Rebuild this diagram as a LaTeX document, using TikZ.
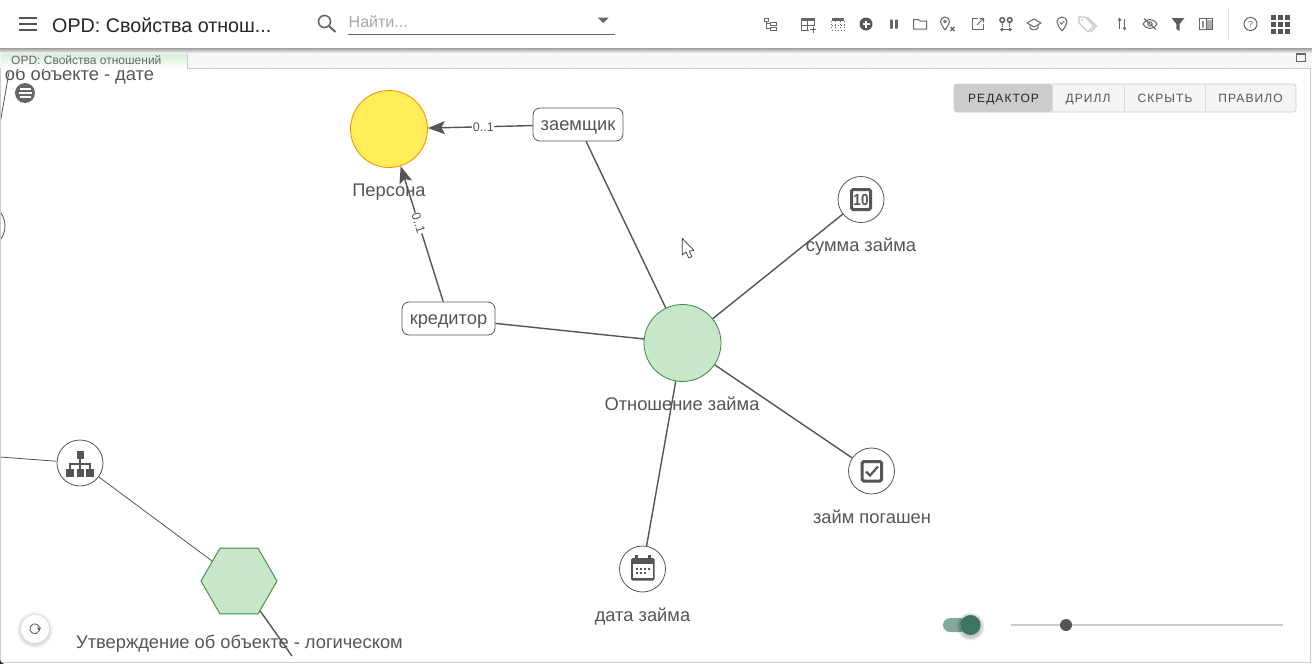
\documentclass[tikz,border=0pt]{standalone}
\usepackage{fontspec}
\setmainfont{Liberation Sans}
\newfontfamily\spacedfont[LetterSpace=9]{Liberation Sans}
\usetikzlibrary{shapes.geometric,arrows.meta,shadings}
\definecolor{ink}{HTML}{555555}
\definecolor{tbcol}{HTML}{666666}
\definecolor{frameg}{HTML}{CCCCCC}
\definecolor{yfill}{HTML}{FFEE58}
\definecolor{ystroke}{HTML}{FB8C00}
\definecolor{gfill}{HTML}{C8E6C9}
\definecolor{gstroke}{HTML}{388E3C}
\definecolor{tgtrack}{HTML}{82AA9C}
\definecolor{tgknob}{HTML}{3D7563}
\tikzset{
  x=1pt,y=-1pt,
  bigcirc/.style={circle,inner sep=0pt,minimum size=77pt,line width=.8pt},
  personashape/.style={bigcirc,draw=ystroke,fill=yfill},
  relshape/.style={bigcirc,draw=gstroke,fill=gfill},
  hexshape/.style={regular polygon,regular polygon sides=6,inner sep=0pt,minimum size=76pt,draw=gstroke,fill=gfill,line width=.9pt},
  iconcirc/.style={circle,inner sep=0pt,minimum size=46pt,draw=ink,fill=white,line width=.8pt},
  rolebox/.style={rectangle,rounded corners=7pt,draw=ink,fill=white,line width=.8pt,inner sep=0pt},
  lbl/.style={anchor=base,inner sep=0pt,text=ink,font=\fontsize{18.3}{18.3}\selectfont},
  conn/.style={draw=ink,line width=1.4pt},
  thinconn/.style={draw=ink,line width=.8pt},
  arr/.style={conn,-{Stealth[length=17pt,width=13pt,inset=3.5pt]}},
  mult/.style={fill=white,inner sep=.5pt,text=ink,font=\fontsize{12.5}{12.5}\selectfont},
  tb/.style={draw=tbcol,line width=1pt,fill=none},
  btn/.style={anchor=base,inner sep=0pt,text=ink,font=\spacedfont\fontsize{12}{12}\selectfont},
}
\begin{document}
\begin{tikzpicture}
\useasboundingbox (0,0) rectangle (1312,664);
\clip (0,0) rectangle (1312,664);
\fill[white] (0,0) rectangle (1312,664);

% connectors' nodes
\node[personashape] (persona) at (389,129) {};
\node[relshape] (rel) at (682.5,343) {};
\node[rolebox,minimum width=90pt,minimum height=33pt] (borrower) at (578,124.5) {};
\node[rolebox,minimum width=93pt,minimum height=33pt] (lender) at (448.5,318.5) {};
\node[iconcirc] (sum) at (861,199.5) {};
\node[iconcirc] (repaid) at (871.5,471) {};
\node[iconcirc] (date) at (642.5,569) {};
\node[iconcirc] (tree) at (80,463) {};
\node[iconcirc] (partial) at (-18,226) {};
\node[hexshape] (hex) at (239,581) {};
\coordinate (leftend) at (0,457);
\coordinate (hexend) at (292,656);
\coordinate (topa) at (9,72);
\coordinate (topb) at (0,124);

% connectors
\draw[conn] (borrower) -- (rel);
\draw[conn] (lender) -- (rel);
\draw[conn] (sum) -- (rel);
\draw[conn] (repaid) -- (rel);
\draw[conn] (date) -- (rel);
\draw[arr] (borrower) -- node[mult,pos=.47] (m1) {0..1} (persona);
\draw[arr] (lender) -- node[mult,pos=.58,rotate=-72.5] (m2) {0..1} (persona);
\draw[thinconn] (leftend) -- (tree);
\draw[thinconn] (tree) -- (hex);
\draw[conn] (hex) -- (hexend);
\draw[thinconn] (topa) -- (topb);

% labels
\node[lbl] (lpersona) at (389,196) {Персона};
\node[lbl] (lrel) at (682,410) {Отношение займа};
\node[lbl] (lsum) at (861,251) {сумма займа};
\node[lbl] (lrepaid) at (872,523) {займ погашен};
\node[lbl] (ldate) at (642.5,621) {дата займа};
\node[lbl] (lhex) at (239.5,648) {Утверждение об объекте - логическом};
\node[lbl] (ltop) at (79.5,80) {об объекте - дате};
\node[lbl] (tborrower) at (578,130) {заемщик};
\node[lbl] (tlender) at (448.5,324) {кредитор};

% icon: 10
\draw[ink,line width=3pt,rounded corners=1.5pt] (851.5,189.5) rectangle (870.5,209.5);
\node[inner sep=0pt,text=ink,xscale=.85,font=\bfseries\fontsize{16}{16}\selectfont] (ten) at (861,199.7) {10};
% icon: check box
\draw[ink,line width=3pt,rounded corners=1.5pt] (862.2,461.5) rectangle (881.5,481);
\draw[ink,line width=2.2pt] (866,471.5) -- (870,475.5) -- (878,466.5);
% icon: calendar
\fill[ink,rounded corners=1.5pt] (631,558) rectangle (654.5,580.5);
\fill[ink] (635,555) rectangle (637.5,559);
\fill[ink] (648,555) rectangle (650.5,559);
\fill[white] (633,564) rectangle (652.5,578);
\foreach \px in {636,640,644,648}{\fill[ink] (\px,567.5) rectangle +(2,2);}
\foreach \px in {636,640,644}{\fill[ink] (\px,572) rectangle +(2,2);}
% icon: hierarchy
\fill[ink] (76.5,451) rectangle (84,459);
\fill[ink] (66,469) rectangle (74,476.5);
\fill[ink] (76.5,469) rectangle (84,476.5);
\fill[ink] (86,469) rectangle (94,476.5);
\draw[ink,line width=1.5pt] (80,459) -- (80,469) (70,469) -- (70,464) -- (90,464) -- (90,469);

% cursor
\draw[black!80,fill=white,line width=.7pt,line join=round] (682.3,238.5) -- (682.3,255) -- (686,252) -- (688.8,258) -- (691.8,256.6) -- (689.3,251) -- (694,250.5) -- cycle;

% button group
\draw[fill=white!96!black,draw=frameg,line width=.8pt,rounded corners=3pt] (954,84) rectangle (1296,112);
\fill[frameg,rounded corners=3pt] (954,84) rectangle (1052,112);
\draw[frameg!70!white,line width=.8pt] (1052,84) -- (1052,112) (1124.5,84) -- (1124.5,112) (1205.5,84) -- (1205.5,112);
\node[btn,text=black!85] (bedit) at (1003.5,102) {РЕДАКТОР};
\node[btn] (bdrill) at (1088,102) {ДРИЛЛ};
\node[btn] (bhide) at (1165,102) {СКРЫТЬ};
\node[btn] (brule) at (1250.5,102) {ПРАВИЛО};

% menu button
\fill[tbcol] (25,93) circle (10);
\draw[white,line width=1.4pt] (19.5,89) -- (30.5,89) (18.5,93) -- (31.5,93) (19.5,97) -- (30.5,97);

% toggle and slider
\fill[tgtrack,rounded corners=7pt] (943,618) rectangle (967,632);
\foreach \k in {4,3,2,1}{\fill[black,opacity=.06] (970.5,626.5) circle (10+\k);}
\fill[tgknob] (970.5,625) circle (10);
\draw[frameg,line width=1.8pt] (1011,625) -- (1283,625);
\fill[ink] (1066,625) circle (6);

% refresh
\foreach \k in {4,3,2,1}{\fill[black,opacity=.035] (35,630) circle (14+\k);}
\fill[white] (35,629) circle (14);
\draw[ink,line width=.8pt] (39.5,627) arc (-20:-340:5);
\fill[ink] (41,627.5) -- (37,627.5) -- (39.3,631) -- cycle;

% tab strip
\fill[white!97!black] (0,48) rectangle (1312,68);
\begin{scope}
\clip (187,48) rectangle (1312,68);
\foreach \hx in {150,270,...,1350}{
  \draw[black!7,line width=.5pt] (\hx,68) -- (\hx+20,48);
  \draw[black!7,line width=.5pt] (\hx+60,68) -- (\hx+40,48);
}
\end{scope}
\shade[top color=gfill,bottom color=white] (1,48) rectangle (187,68);
\draw[frameg,line width=.8pt] (187,48) -- (187,68) -- (1311,68);
\node[anchor=base west,inner sep=0pt,text=tbcol,font=\fontsize{12}{12}\selectfont] (tabtext) at (11,64) {OPD: Свойства отношений};

% frame
\draw[frameg,line width=1pt] (.5,68) -- (.5,662.5) -- (1310.5,662.5) -- (1310.5,68);
\fill[black!85] (0,660) to[bend right=30] (4,664) -- (0,664) -- cycle;

% top bar
\shade[top color=black!45,bottom color=white!96!black] (0,47) rectangle (1312,53);
\fill[white] (0,0) rectangle (1312,47.5);
\draw[tbcol,line width=.9pt] (1296.5,53.5) rectangle (1305.5,61.5);
\draw[tbcol,line width=1.5pt] (1296.5,54) -- (1305.5,54);
\draw[ink,line width=2pt] (19,18) -- (37,18) (19,24) -- (37,24) (19,30) -- (37,30);
\node[anchor=base west,inner sep=0pt,text=black!85,font=\fontsize{19.7}{19.7}\selectfont] (title) at (52,32) {OPD: Свойства отнош...};
\draw[tbcol,line width=1.6pt] (324.5,21.5) circle (6);
\draw[tbcol,line width=2pt] (329,26) -- (335.5,32);
\node[anchor=base west,inner sep=0pt,text=black!35,font=\fontsize{16}{16}\selectfont] (find) at (348.5,27.5) {Найти...};
\draw[tbcol,line width=.8pt] (348,34.5) -- (615,34.5);
\fill[tbcol] (597.5,17.5) -- (609,17.5) -- (603.2,23) -- cycle;

% toolbar icons
\begin{scope}[shift={(770,24)}]
 \draw[tb,line width=.8pt] (-6,-6) rectangle (-1.5,-3);
 \draw[tb,line width=.8pt] (-4,-3) -- (-4,4.5) -- (0,4.5) (-4,-.5) -- (0,-.5);
 \draw[tb,line width=.8pt] (0,-2) rectangle (6,1) (0,3) rectangle (6,6.5);
\end{scope}
\begin{scope}[shift={(808,24)}]
 \draw[tb] (-6.5,-6) rectangle (6,6);
 \fill[tbcol] (-6.5,-6) rectangle (6,-3);
 \draw[tb] (-.5,-3) -- (-.5,6) (-6.5,1) -- (6,1);
 \fill[white] (1,2) rectangle (9,9);
 \draw[tb] (5,2.5) -- (5,8.5) (2,5.5) -- (8,5.5);
\end{scope}
\begin{scope}[shift={(838,24)}]
 \fill[tbcol] (-6.5,-6) rectangle (6,-3.5);
 \draw[tb,dotted,line width=.8pt] (-6.5,-3) -- (-6.5,6) -- (6,6) -- (6,-3) (-6.5,1.5) -- (6,1.5) (-2.3,-3) -- (-2.3,6) (2,-3) -- (2,6);
\end{scope}
\begin{scope}[shift={(866,24)}]
 \fill[tbcol!85!black] (0,0) circle (6.5);
 \draw[white,line width=1.6pt] (-3.5,0) -- (3.5,0) (0,-3.5) -- (0,3.5);
\end{scope}
\begin{scope}[shift={(894,24)}]
 \fill[tbcol] (-3.8,-4.5) rectangle (-1.2,4.5) (1.2,-4.5) rectangle (3.8,4.5);
\end{scope}
\begin{scope}[shift={(920,24)}]
 \draw[tb,line join=round] (-6.5,-4.5) -- (-1.5,-4.5) -- (0,-3) -- (6.5,-3) -- (6.5,5) -- (-6.5,5) -- cycle;
\end{scope}
\begin{scope}[shift={(947,24)}]
 \draw[tb] (-2,6) .. controls (-5,1.5) and (-6.5,-.5) .. (-6.5,-2.5) arc (180:360:4.5) .. controls (2.5,-.5) and (1,1.5) .. (-2,6);
 \draw[tb,line width=.8pt] (-2,-2.5) circle (1.3);
 \draw[tb,line width=1.1pt] (3.5,3) -- (7.5,7) (7.5,3) -- (3.5,7);
\end{scope}
\begin{scope}[shift={(978,24)}]
 \draw[tb,line join=round] (0,-5.5) -- (-5.5,-5.5) -- (-5.5,5.5) -- (5.5,5.5) -- (5.5,0);
 \draw[tb] (-1,1) -- (5.5,-5.5) (1.5,-5.5) -- (5.5,-5.5) -- (5.5,-1.5);
\end{scope}
\begin{scope}[shift={(1006,24)}]
 \draw[tb,line width=1.6pt] (-3.7,-4) circle (2.3) (3.7,-4) circle (2.3);
 \draw[tb,line width=1.4pt] (-3.7,-1.5) -- (-3.7,3) (3.7,-1.5) -- (3.7,3);
 \draw[tb] (-4,5.5) -- (4,5.5);
 \fill[tbcol] (-4,5.5) circle (1.8) (4,5.5) circle (1.8);
\end{scope}
\begin{scope}[shift={(1034,24)}]
 \draw[tb,line join=round] (-7,-1) -- (0,-5) -- (7,-1) -- (0,3) -- cycle;
 \draw[tb] (-4,1) -- (-4,4) .. controls (-2,6.5) and (2,6.5) .. (4,4) -- (4,1);
\end{scope}
\begin{scope}[shift={(1062,24)}]
 \draw[tb] (0,7) .. controls (-3,3) and (-5,.5) .. (-5,-2) arc (180:360:5) .. controls (5,.5) and (3,3) .. (0,7);
 \draw[tb,line width=.8pt] (-2.2,-1.8) -- (-.5,0) -- (2.4,-3.2);
\end{scope}
\begin{scope}[shift={(1088,24)}]
 \draw[draw=black!22,line width=1.1pt,line join=round] (-9,-7) -- (-3,-7) -- (6,2) -- (0,8) -- (-9,-1) -- cycle;
 \draw[draw=black!22,line width=1.1pt] (-1,-7) -- (8.5,2) -- (3,8);
 \fill[black!22] (-6,-4) circle (1.2);
\end{scope}
\begin{scope}[shift={(1122,24)}]
 \draw[tb,line width=.8pt] (-2.5,5) -- (-2.5,-5) (2.5,-5) -- (2.5,5);
 \fill[tbcol] (-2.5,-6.5) -- (-4.5,-3.5) -- (-.5,-3.5) -- cycle (2.5,6.5) -- (.5,3.5) -- (4.5,3.5) -- cycle;
\end{scope}
\begin{scope}[shift={(1150,24)}]
 \draw[tb] (-7,0) .. controls (-3,-6) and (3,-6) .. (7,0) .. controls (3,6) and (-3,6) .. (-7,0);
 \draw[tb] (0,0) circle (2.2);
 \draw[tb] (-6,-5.5) -- (6,5.5);
\end{scope}
\begin{scope}[shift={(1178,24)}]
 \fill[tbcol!90!black] (-6.5,-6) -- (6.5,-6) -- (1.6,0) -- (1.6,7) -- (-1.6,5) -- (-1.6,0) -- cycle;
\end{scope}
\begin{scope}[shift={(1206,24)}]
 \draw[tb,line width=.8pt] (-6.5,-5.5) rectangle (6.5,5.5);
 \draw[tb,line width=.8pt] (0,-5.5) -- (0,5.5);
 \fill[tbcol!55!white] (.8,-4.5) rectangle (5.5,4.5);
 \fill[tbcol!70!white] (-4,-3) rectangle (-2.5,3.5);
\end{scope}
\draw[black!12,line width=.8pt] (1228.5,8) -- (1228.5,40);
\begin{scope}[shift={(1250.5,24)}]
 \draw[tb] (0,0) circle (6.5);
 \node[inner sep=0pt,text=tbcol,font=\fontsize{9}{9}\selectfont] (helpq) at (0,0) {?};
\end{scope}
\foreach \gx in {1273.5,1280.5,1287.5}{\foreach \gy in {17.5,24.5,31.5}{\fill[ink] (\gx-2.5,\gy-2.5) rectangle +(5,5);}}
\end{tikzpicture}
\end{document}
